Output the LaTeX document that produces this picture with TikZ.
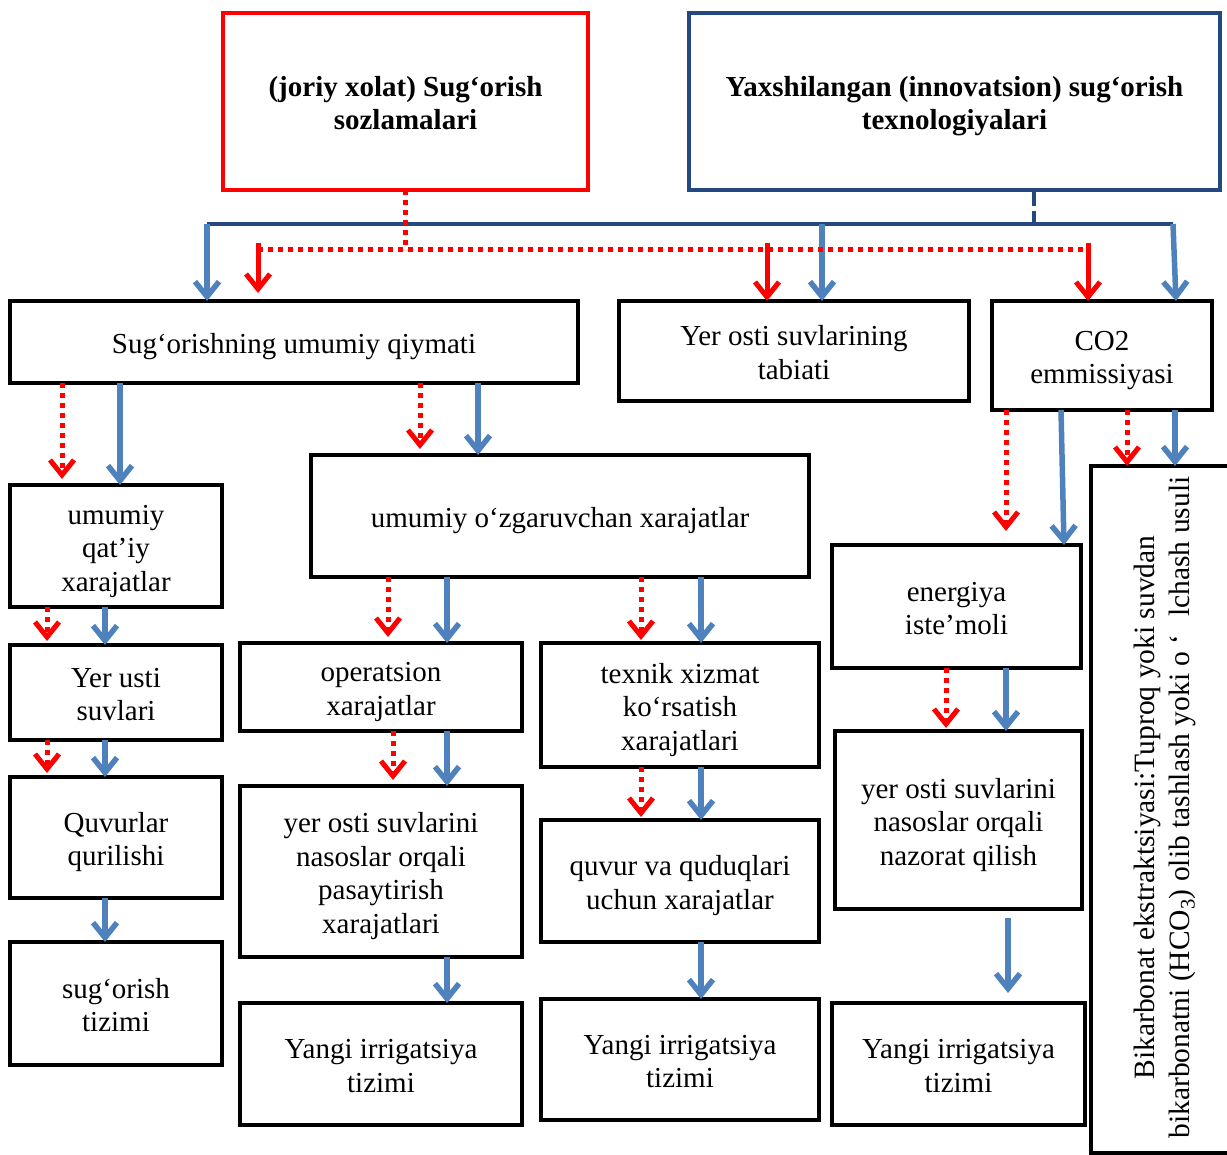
\documentclass[tikz,border=0pt]{standalone}
\usepackage{fontspec}
\setmainfont{Liberation Serif}
\usetikzlibrary{arrows.meta}

\definecolor{topblue}{RGB}{36,72,128}
\definecolor{arrblue}{RGB}{79,129,189}
\definecolor{redc}{RGB}{255,0,0}

% struts that fix the first-line height and the last-line depth of box texts
\newcommand\boxtop{\rule{0pt}{30pt}}
\newcommand\boxbot{\rule[-7pt]{0pt}{7pt}}

\tikzset{
  box/.style={draw=black, line width=4.5pt, align=center, inner sep=0pt, outer sep=0pt,
    font=\fontsize{29}{33.5}\selectfont},
  vtip/.style={-{Straight Barb[length=15pt,width=24pt]}},
  bluearr/.style={draw=arrblue, line width=5.5pt, vtip},
  redarr/.style={draw=redc, line width=5pt, vtip},
  reddot/.style={draw=redc, line width=5pt, dash pattern=on 5pt off 5pt},
  reddotarr/.style={reddot, vtip},
  trunk/.style={draw=topblue, line width=4.5pt},
}

\begin{document}
\begin{tikzpicture}[x=1pt, y=-1pt]
\useasboundingbox (0,0) rectangle (1227,1155);

% top level
\node[box, draw=redc, minimum width=365pt, minimum height=177pt, font=\fontsize{29}{32.5}\selectfont\bfseries]
  (cur) at (405.5,101.5) {\boxtop(joriy xolat) Sug‘orish\\sozlamalari\boxbot};
\node[box, draw=topblue, minimum width=531pt, minimum height=177pt, font=\fontsize{29}{32.5}\selectfont\bfseries]
  (inno) at (954.5,101.5) {\boxtop Yaxshilangan (innovatsion) sug‘orish\\texnologiyalari\boxbot};

% second level
\node[box, minimum width=568pt, minimum height=82pt] (A) at (294,342) {\boxtop Sug‘orishning umumiy qiymati\boxbot};
\node[box, minimum width=350pt, minimum height=100pt] (B) at (794,351) {\boxtop Yer osti suvlarining\\tabiati\boxbot};
\node[box, minimum width=220pt, minimum height=109pt] (C) at (1102,355.5) {\boxtop CO2\\emmissiyasi\boxbot};

% third level
\node[box, minimum width=212pt, minimum height=122pt] (D) at (116,546) {\boxtop umumiy\\qat’iy\\xarajatlar\boxbot};
\node[box, minimum width=498pt, minimum height=122pt] (E) at (560,516) {\boxtop umumiy o‘zgaruvchan xarajatlar\boxbot};
\node[box, minimum width=249pt, minimum height=123pt] (F) at (956.5,606.5) {\boxtop energiya\\iste’moli\boxbot};
\node[box, minimum width=150pt, minimum height=687pt] (V) at (1166,809.5) {};
\node[rotate=90, align=center, inner sep=0pt, font=\fontsize{29.5}{35}\selectfont] (Vt) at ([xshift=-1pt,yshift=2pt]V.center)
  {Bikarbonat ekstraktsiyasi:Tuproq yoki suvdan\\bikarbonatni (HCO\textsubscript{3}) olib tashlash yoki o ‘\hspace{0.6em}lchash usuli};

% left column
\node[box, minimum width=212pt, minimum height=95pt] (G) at (116,692.5) {\boxtop Yer usti\\suvlari\boxbot};
\node[box, minimum width=212pt, minimum height=121pt] (H) at (116,837.5) {\boxtop Quvurlar\\qurilishi\boxbot};
\node[box, minimum width=212pt, minimum height=123pt] (I) at (116,1003.5) {\boxtop sug‘orish\\tizimi\boxbot};

% middle columns
\node[box, minimum width=282pt, minimum height=88pt] (J) at (381,687) {\boxtop operatsion\\xarajatlar\boxbot};
\node[box, minimum width=282pt, minimum height=171pt] (K) at (381,871.5) {\boxtop yer osti suvlarini\\nasoslar orqali\\pasaytirish\\xarajatlari\boxbot};
\node[box, minimum width=282pt, minimum height=122pt] (L) at (381,1064) {\boxtop Yangi irrigatsiya\\tizimi\boxbot};
\node[box, minimum width=278pt, minimum height=124pt] (M) at (680,705) {\boxtop texnik xizmat\\ko‘rsatish\\xarajatlari\boxbot};
\node[box, minimum width=278pt, minimum height=122pt] (N) at (680,881) {\boxtop quvur va quduqlari\\uchun xarajatlar\boxbot};
\node[box, minimum width=278pt, minimum height=121pt] (O) at (680,1059.5) {\boxtop Yangi irrigatsiya\\tizimi\boxbot};

% right column
\node[box, minimum width=247pt, minimum height=178pt] (P) at (958.5,820) {\boxtop yer osti suvlarini\\nasoslar orqali\\nazorat qilish\boxbot};
\node[box, minimum width=253pt, minimum height=122pt] (Q) at (958.5,1064) {\boxtop Yangi irrigatsiya\\tizimi\boxbot};

% distribution lines from the top boxes
\coordinate (tj) at (1034,224);
\coordinate (tl) at (207,224);
\coordinate (tm) at (822,224);
\coordinate (tr) at (1173,224);
\draw[trunk, dash pattern=on 16pt off 5pt] (inno.south -| tj) -- (tj);
\draw[trunk] (tl) -- (tr);
\draw[bluearr] (tl) -- (A.north -| tl);
\draw[bluearr] (tm) -- (B.north -| tm);
\draw[bluearr] (tr) -- (C.north -| 1176,0);

\coordinate (rj) at (405,250);
\coordinate (rl) at (258,250);
\coordinate (rm) at (767,250);
\coordinate (rr) at (1088,250);
\draw[reddot] (cur.south -| rj) -- (rj);
\draw[reddot] (rl) -- (rr);
\draw[redarr, shorten >=8pt] ([yshift=7pt]rl) -- (A.north -| rl);
\draw[redarr] ([yshift=7pt]rm) -- (B.north -| rm);
\draw[redarr] ([yshift=7pt]rr) -- (C.north -| rr);

% second to third level
\draw[reddotarr, shorten >=6pt] (A.south -| 62,0) -- (D.north -| 62,0);
\draw[bluearr] (A.south -| 120,0) -- (D.north -| 120,0);
\draw[reddotarr, shorten >=6pt] (A.south -| 420,0) -- (E.north -| 420,0);
\draw[bluearr] (A.south -| 478,0) -- (E.north -| 478,0);
\draw[reddotarr, shorten >=14pt] (C.south -| 1006,0) -- (F.north -| 1006,0);
\draw[bluearr] (C.south -| 1061,0) -- (F.north -| 1064,0);
\draw[reddotarr] (C.south -| 1127,0) -- (V.north -| 1127,0);
\draw[bluearr] (C.south -| 1175,0) -- (V.north -| 1175,0);

% left chain
\draw[reddotarr, shorten >=4pt] (D.south -| 47,0) -- (G.north -| 47,0);
\draw[bluearr] (D.south -| 105,0) -- (G.north -| 105,0);
\draw[reddotarr, shorten >=4pt] (G.south -| 47,0) -- (H.north -| 47,0);
\draw[bluearr] (G.south -| 105,0) -- (H.north -| 105,0);
\draw[bluearr] (H.south -| 105,0) -- (I.north -| 105,0);

% operating cost chain
\draw[reddotarr, shorten >=6pt] (E.south -| 388,0) -- (J.north -| 388,0);
\draw[bluearr] (E.south -| 447,0) -- (J.north -| 447,0);
\draw[reddotarr, shorten >=6pt] (J.south -| 393,0) -- (K.north -| 393,0);
\draw[bluearr] (J.south -| 447,0) -- (K.north -| 447,0);
\draw[bluearr] (K.south -| 447,0) -- (L.north -| 447,0);

% maintenance cost chain
\draw[reddotarr, shorten >=3pt] (E.south -| 641,0) -- (M.north -| 641,0);
\draw[bluearr] (E.south -| 701,0) -- (M.north -| 701,0);
\draw[reddotarr, shorten >=3pt] (M.south -| 641,0) -- (N.north -| 641,0);
\draw[bluearr] (M.south -| 701,0) -- (N.north -| 701,0);
\draw[bluearr] (N.south -| 701,0) -- (O.north -| 701,0);

% energy chain
\draw[reddotarr, shorten >=3pt] (F.south -| 946,0) -- (P.north -| 946,0);
\draw[bluearr] (F.south -| 1006,0) -- (P.north -| 1006,0);
\draw[bluearr, shorten <=9pt, shorten >=10pt] (P.south -| 1008,0) -- (Q.north -| 1008,0);
\end{tikzpicture}
\end{document}
